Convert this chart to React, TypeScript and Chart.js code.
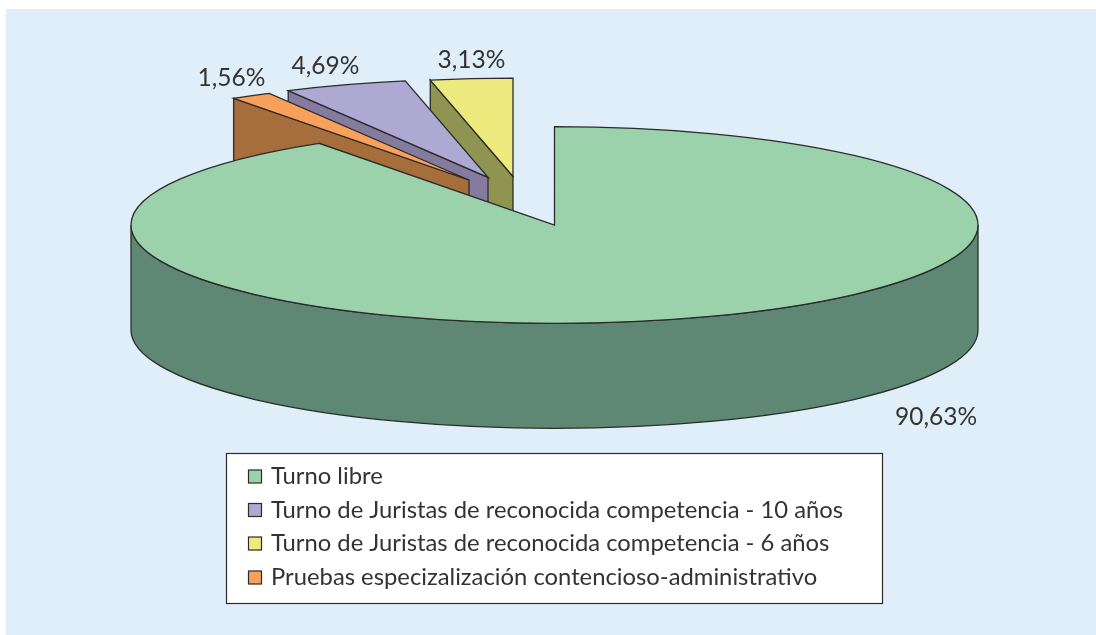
import React, { useEffect, useRef } from "react";
import { Chart, registerables } from "chart.js";

Chart.register(...registerables);

const categories = [
  "Turno libre",
  "Pruebas especizalización contencioso-administrativo",
  "Turno de Juristas de reconocida competencia - 10 años",
  "Turno de Juristas de reconocida competencia - 6 años",
];
const shares = [90.63, 1.56, 4.69, 3.13];
const topColors = ["#9BD2AC", "#F9A05A", "#AEA9D3", "#EDEB7E"];
const wallColors = ["#5E8874", "#A56E3B", "#857B9F", "#8F9450"];
const legendOrder = [0, 2, 3, 1];

const CX = 554.5;
const CY = 225;
const RX = 423.5;
const RY = 98.3;
const DEPTH = 105;
const EXPLODE = [[0, 0], [-85.5, -45], [-66.5, -47.7], [-41.5, -48.5]];
const LABEL_POS = [[936, 425], [231.5, 86], [325.5, 74], [471.5, 68]];
const LINE = "#2b2b2b";
const TEXT = "#333333";
const FONT = "Lato";
const LABEL_PX = 24.5;
const LEGEND_PX = 23.8;
const LEGEND_BOX = { x: 226, y: 453, w: 656, h: 150 };
const LEGEND_ROWS = [476.5, 510, 543.5, 577.5];

const pct = (v: number) => v.toFixed(2).replace(".", ",") + "%";

const pie3d = {
  id: "pie3d",
  beforeDatasetDraw(chart: any) {
    const ctx = chart.ctx;
    const arcs = chart.getDatasetMeta(0).data;
    ctx.lineWidth = 1.3;
    ctx.strokeStyle = LINE;
    ctx.lineJoin = "miter";
    [3, 2, 1, 0].forEach((i) => {
      const arc = arcs[i];
      const R = arc.outerRadius;
      const ox = CX + EXPLODE[i][0];
      const oy = CY + EXPLODE[i][1];
      ctx.fillStyle = wallColors[i];
      ctx.beginPath();
      if (i === 0) {
        ctx.ellipse(ox, oy, R, RY, 0, 0, Math.PI);
        ctx.ellipse(ox, oy + DEPTH, R, RY, 0, Math.PI, 0, true);
      } else {
        const ex = ox + R * Math.cos(arc.startAngle);
        const ey = oy + RY * Math.sin(arc.startAngle);
        ctx.moveTo(ox, oy);
        ctx.lineTo(ex, ey);
        ctx.lineTo(ex, ey + DEPTH);
        ctx.lineTo(ox, oy + DEPTH);
      }
      ctx.closePath();
      ctx.fill();
      ctx.stroke();

      ctx.save();
      ctx.translate(ox, oy);
      ctx.scale(1, RY / R);
      ctx.translate(-arc.x, -arc.y);
      arc.draw(ctx);
      ctx.restore();

      ctx.beginPath();
      ctx.moveTo(ox, oy);
      ctx.ellipse(ox, oy, R, RY, 0, arc.startAngle, arc.endAngle);
      ctx.closePath();
      ctx.stroke();
    });
    return false;
  },
  afterDatasetsDraw(chart: any) {
    const ctx = chart.ctx;
    const labels = chart.data.labels;
    const values = chart.data.datasets[0].data;
    ctx.save();
    ctx.fillStyle = TEXT;
    ctx.font = `${LABEL_PX}px ${FONT}`;
    ctx.textAlign = "center";
    ctx.textBaseline = "alphabetic";
    values.forEach((v: number, i: number) => {
      ctx.fillText(pct(v), LABEL_POS[i][0], LABEL_POS[i][1]);
    });

    const b = LEGEND_BOX;
    ctx.fillStyle = "#ffffff";
    ctx.fillRect(b.x, b.y, b.w, b.h);
    ctx.strokeStyle = LINE;
    ctx.lineWidth = 1.2;
    ctx.strokeRect(b.x + 0.5, b.y + 0.5, b.w, b.h);

    ctx.font = `${LEGEND_PX}px ${FONT}`;
    ctx.textAlign = "left";
    ctx.textBaseline = "middle";
    legendOrder.forEach((idx, row) => {
      const y = LEGEND_ROWS[row];
      ctx.fillStyle = topColors[idx];
      ctx.fillRect(248.5, y - 6.5, 13, 13);
      ctx.strokeStyle = LINE;
      ctx.strokeRect(248.5, y - 6.5, 13, 13);
      ctx.fillStyle = TEXT;
      ctx.fillText(labels[idx], 271, y);
    });
    ctx.restore();
  },
};

export default function App() {
  const ref = useRef<HTMLCanvasElement>(null);
  useEffect(() => {
    const chart = new Chart(ref.current as HTMLCanvasElement, {
      type: "pie",
      data: {
        labels: categories,
        datasets: [
          {
            data: shares,
            backgroundColor: topColors,
            borderWidth: 0,
            radius: RX,
          },
        ],
      },
      options: {
        responsive: false,
        animation: false,
        plugins: { legend: { display: false }, tooltip: { enabled: false } },
      },
      plugins: [pie3d],
    } as any);
    return () => chart.destroy();
  }, []);
  return (
    <div style={{ position: "fixed", left: 0, top: 0, width: 1096, height: 635, background: "#ffffff", overflow: "hidden" }}>
      <div style={{ position: "absolute", left: 6, top: 9, width: 1090, height: 626, background: "#E0EEF9" }} />
      <canvas ref={ref} width={1096} height={635} style={{ position: "absolute", left: 0, top: 0 }} />
    </div>
  );
}
